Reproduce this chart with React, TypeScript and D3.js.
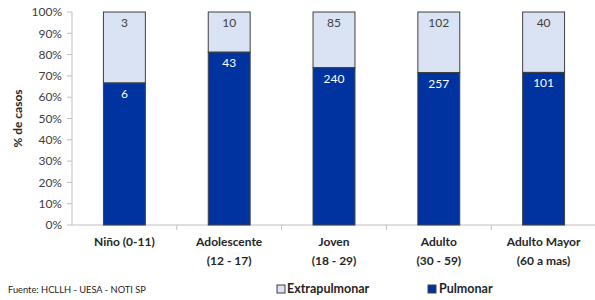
import React from "react";
import * as d3 from "d3";

const categories = [
  ["Niño (0-11)"],
  ["Adolescente", "(12 - 17)"],
  ["Joven", "(18 - 29)"],
  ["Adulto", "(30 - 59)"],
  ["Adulto Mayor", "(60 a mas)"],
];
const pulmonar = [6, 43, 240, 257, 101];
const extrapulmonar = [3, 10, 85, 102, 40];
const yTicks = [0, 0.1, 0.2, 0.3, 0.4, 0.5, 0.6, 0.7, 0.8, 0.9, 1];

const W = 595;
const H = 300;
const FONT = "Lato, 'Open Sans', sans-serif";
const C_PUL = "#0033A0";
const C_EXT = "#DAE3F3";

export default function App() {
  const margin = { left: 72, right: -1, top: 12, bottom: 75 };
  const x = d3
    .scaleBand<number>()
    .domain(categories.map((_, i) => i))
    .range([margin.left, W - margin.right])
    .paddingInner(0.6)
    .paddingOuter(0.3);
  const y = d3.scaleLinear().domain([0, 1]).range([H - margin.bottom, margin.top]);
  const fmt = d3.format(".0%");
  const bounds = categories.map((_, i) => margin.left + i * ((W - margin.right - margin.left) / categories.length));

  return (
    <>
      <style>{"body{margin:0}"}</style>
      <svg width={W} height={H} style={{ display: "block", fontFamily: FONT }}>
        <rect width={W} height={H} fill="#fff" />
        {/* y axis */}
        <line x1={margin.left} x2={margin.left} y1={y(1)} y2={y(0)} stroke="#BFBFBF" />
        {yTicks.map((t) => (
          <g key={t}>
            <line x1={margin.left - 5} x2={margin.left} y1={y(t)} y2={y(t)} stroke="#BFBFBF" />
            <text x={margin.left - 10} y={y(t)} dy="0.35em" textAnchor="end" fontSize={12} fill="#404040">
              {fmt(t)}
            </text>
          </g>
        ))}
        <text
          transform={`translate(22,${(y(0) + y(1)) / 2}) rotate(-90)`}
          textAnchor="middle"
          fontSize={12}
          fontWeight="bold"
          fill="#262626"
        >
          % de casos
        </text>
        {/* x axis */}
        <line x1={margin.left} x2={W} y1={y(0)} y2={y(0)} stroke="#BFBFBF" />
        {bounds.slice(1).map((b) => (
          <line key={b} x1={b} x2={b} y1={y(0)} y2={y(0) + 5} stroke="#BFBFBF" />
        ))}
        {/* bars */}
        {categories.map((c, i) => {
          const total = pulmonar[i] + extrapulmonar[i];
          const p = pulmonar[i] / total;
          const bx = x(i) as number;
          const bw = x.bandwidth();
          const cx = bx + bw / 2;
          return (
            <g key={i}>
              <rect x={bx} y={y(1)} width={bw} height={y(p) - y(1)} fill={C_EXT} stroke="#404040" strokeWidth={1} />
              <rect x={bx} y={y(p)} width={bw} height={y(0) - y(p)} fill={C_PUL} stroke="#404040" strokeWidth={1} />
              <text x={cx} y={y(1) + 15} textAnchor="middle" fontSize={12} fill="#404040">
                {extrapulmonar[i]}
              </text>
              <text x={cx} y={y(p) + 15} textAnchor="middle" fontSize={12} fill="#fff">
                {pulmonar[i]}
              </text>
              {c.map((line, k) => (
                <text
                  key={k}
                  x={cx}
                  y={y(0) + 21 + k * 19}
                  textAnchor="middle"
                  fontSize={12}
                  fontWeight="bold"
                  fill="#262626"
                >
                  {line}
                </text>
              ))}
            </g>
          );
        })}
        {/* legend */}
        <rect x={277} y={285} width={8} height={8} fill={C_EXT} stroke="#404040" />
        <text x={287} y={293} fontSize={12.5} fontWeight="bold" fill="#262626">Extrapulmonar</text>
        <rect x={428} y={285} width={8} height={8} fill={C_PUL} stroke="#404040" />
        <text x={439} y={293} fontSize={12.5} fontWeight="bold" fill="#262626">Pulmonar</text>
        <text x={8} y={293} fontSize={9.3} fill="#262626">Fuente: HCLLH - UESA - NOTI SP</text>
      </svg>
    </>
  );
}
